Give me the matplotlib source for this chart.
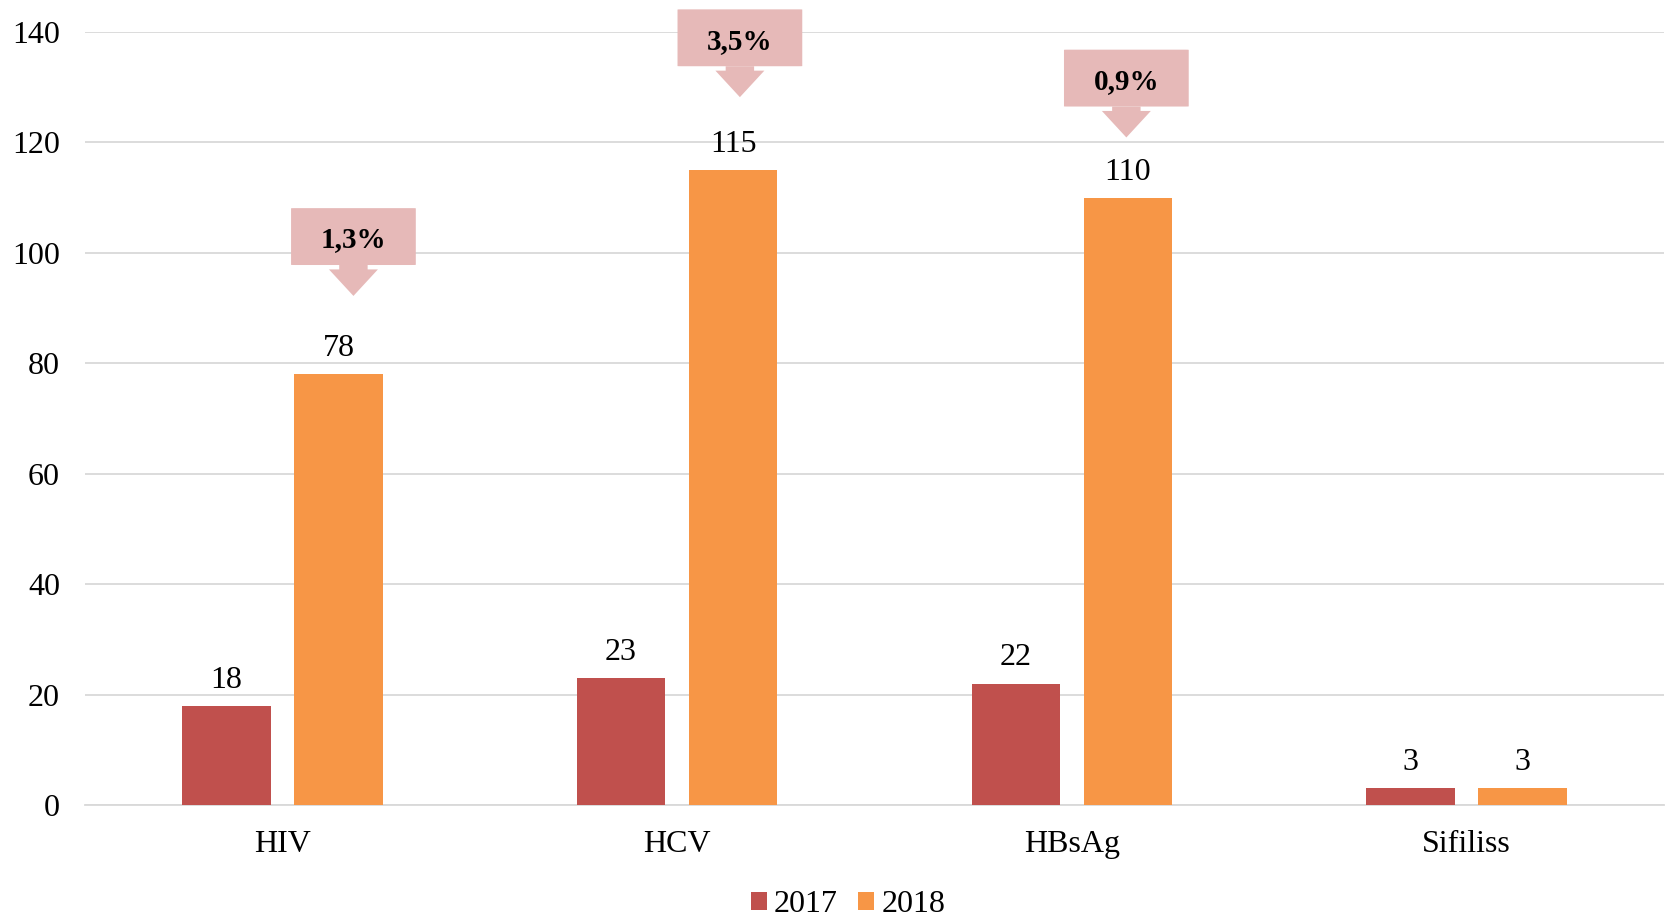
import matplotlib
matplotlib.use("Agg")
import matplotlib.pyplot as plt
from matplotlib.patches import FancyBboxPatch, Polygon
import numpy as np

categories = ["HIV", "HCV", "HBsAg", "Sifiliss"]
series_names = ["2017", "2018"]
values_2017 = [18, 23, 22, 3]
values_2018 = [78, 115, 110, 3]
callout_labels = ["1,3%", "3,5%", "0,9%"]
y_ticks = [0, 20, 40, 60, 80, 100, 120, 140]

colors = ["#C0504D", "#F79646"]
callout_color = "#E6B9B8"

# callout placement (x centre, arrow tip height) in data units
callout_x = [0.18, 1.159, 2.138]
callout_tip = [92.2, 128.2, 120.9]

plt.rcParams["font.family"] = ["Liberation Serif", "DejaVu Serif"]
FS = 23

fig = plt.figure(figsize=(16.69, 9.17), dpi=100)
ax = fig.add_axes([85 / 1669, 1 - 805 / 917, (1664 - 85) / 1669, (805 - 32) / 917])

x = np.arange(len(categories))
bar_w = 0.224
offset = 0.142
b1 = ax.bar(x - offset, values_2017, bar_w, color=colors[0], label=series_names[0], zorder=3)
b2 = ax.bar(x + offset, values_2018, bar_w, color=colors[1], label=series_names[1], zorder=3)

for bars, vals in ((b1, values_2017), (b2, values_2018)):
    for rect, v in zip(bars, vals):
        ax.annotate(f"{v}", (rect.get_x() + rect.get_width() / 2, v),
                    xytext=(0, 8), textcoords="offset points",
                    ha="center", va="bottom", fontsize=FS, color="black")

ax.set_xlim(-0.5, len(categories) - 0.5)
ax.set_ylim(0, 140)
ax.set_yticks(y_ticks)
ax.set_xticks(x)
ax.set_xticklabels(categories)
ax.tick_params(axis="both", length=0, labelsize=FS)
ax.tick_params(axis="y", pad=18)
ax.tick_params(axis="x", pad=18)
ax.grid(axis="y", color="#D9D9D9", linewidth=1.3, zorder=0)
for s in ("top", "right", "left"):
    ax.spines[s].set_visible(False)
ax.spines["bottom"].set_color("#D9D9D9")
ax.spines["bottom"].set_linewidth(1.3)

# Percentage callouts: box with a downward arrow, above the 2018 bars
box_w = 0.316
box_h = 10.3
head_h = 4.8
neck = 0.8
shaft = 0.036
head = 0.062
for lab, cx, tip in zip(callout_labels, callout_x, callout_tip):
    bottom = tip + head_h + neck
    box = FancyBboxPatch((cx - box_w / 2, bottom), box_w, box_h,
                         boxstyle="round,pad=0,rounding_size=0.008",
                         mutation_aspect=4,
                         facecolor=callout_color, edgecolor="none",
                         clip_on=False, zorder=4)
    ax.add_patch(box)
    arrow = Polygon([(cx - shaft, bottom), (cx + shaft, bottom),
                     (cx + shaft, tip + head_h), (cx + head, tip + head_h),
                     (cx, tip), (cx - head, tip + head_h),
                     (cx - shaft, tip + head_h)],
                    closed=True, facecolor=callout_color, edgecolor="none",
                    clip_on=False, zorder=4)
    ax.add_patch(arrow)
    ax.text(cx, bottom + box_h / 2 - 0.6, lab, ha="center", va="center",
            fontsize=21, fontweight="bold", color="black", zorder=5)

leg = fig.legend(loc="center", bbox_to_anchor=(848 / 1669, 1 - 905 / 917),
                 ncol=2, frameon=False, fontsize=FS, handlelength=0.5,
                 handleheight=0.5, handletextpad=0.22, columnspacing=0.65)

fig.savefig("out.png", dpi=100)
